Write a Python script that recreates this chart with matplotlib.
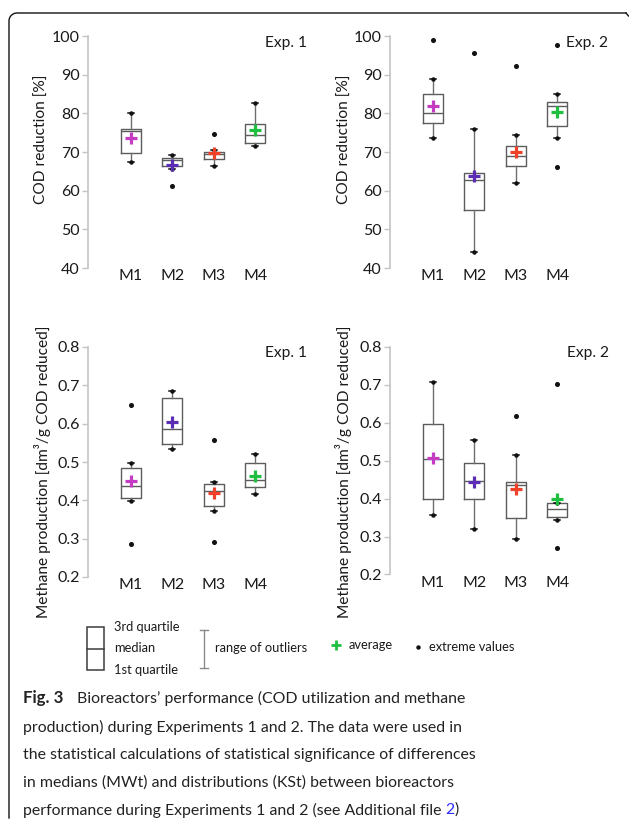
import numpy as np
import matplotlib
matplotlib.use("Agg")
import matplotlib.pyplot as plt

plt.rcParams['font.family'] = ['Lato', 'DejaVu Sans']

W, H = 629, 822

categories = ['M1', 'M2', 'M3', 'M4']
mean_colors = ['#c43cc4', '#5a2db4', '#f0412a', '#1fbf3f']

# COD reduction, Exp. 1 [%]
cod1_whislo = [67.3, 65.6, 66.3, 71.6]
cod1_q1 = [69.7, 66.3, 68.2, 72.2]
cod1_med = [75.5, 68.0, 69.4, 74.4]
cod1_q3 = [75.9, 68.5, 70.1, 77.3]
cod1_whishi = [80.0, 69.3, 70.4, 82.6]
cod1_mean = [73.6, 66.7, 69.7, 75.6]
cod1_extreme = [[], [61.3], [74.6], []]

# COD reduction, Exp. 2 [%]
cod2_whislo = [73.6, 44.1, 62.1, 73.5]
cod2_q1 = [77.6, 54.9, 66.3, 76.6]
cod2_med = [80.2, 62.7, 68.9, 81.9]
cod2_q3 = [85.0, 64.5, 71.5, 82.9]
cod2_whishi = [88.8, 75.9, 74.3, 84.9]
cod2_mean = [82.0, 63.7, 70.1, 80.3]
cod2_extreme = [[99.0], [95.6], [92.3], [97.8, 66.1]]

# methane production, Exp. 1 [dm3/g COD reduced]
meth1_whislo = [0.398, 0.535, 0.372, 0.417]
meth1_q1 = [0.407, 0.548, 0.385, 0.435]
meth1_med = [0.437, 0.587, 0.424, 0.452]
meth1_q3 = [0.484, 0.666, 0.443, 0.497]
meth1_whishi = [0.497, 0.684, 0.449, 0.520]
meth1_mean = [0.451, 0.604, 0.420, 0.464]
meth1_extreme = [[0.650, 0.285], [], [0.557, 0.291], []]

# methane production, Exp. 2 [dm3/g COD reduced]
meth2_whislo = [0.356, 0.320, 0.293, 0.345]
meth2_q1 = [0.399, 0.398, 0.348, 0.351]
meth2_med = [0.504, 0.446, 0.437, 0.374]
meth2_q3 = [0.596, 0.495, 0.444, 0.389]
meth2_whishi = [0.707, 0.555, 0.516, 0.389]
meth2_mean = [0.507, 0.445, 0.425, 0.399]
meth2_extreme = [[], [], [0.619], [0.703, 0.270]]

caption_lines = [
    "production) during Experiments 1 and 2. The data were used in",
    "the statistical calculations of statistical significance of differences",
    "in medians (MWt) and distributions (KSt) between bioreactors",
]


def make_stats(whislo, q1, med, q3, whishi, mean, extreme):
    stats = []
    for i in range(len(med)):
        stats.append(dict(whislo=whislo[i], q1=q1[i], med=med[i], q3=q3[i],
                          whishi=whishi[i], mean=mean[i],
                          fliers=np.array(extreme[i])))
    return stats


fig = plt.figure(figsize=(W / 100, H / 100), dpi=100)


def add_ax(left, top, right, bottom):
    return fig.add_axes([left / W, 1 - bottom / H, (right - left) / W, (bottom - top) / H])


def draw_panel(ax, stats, ylim, yticks, fmt):
    pos = np.arange(1, len(categories) + 1)
    bp = ax.bxp(stats, positions=pos, widths=0.48, showmeans=True,
                showfliers=True, capwidths=0.15, patch_artist=False,
                boxprops=dict(color='#5c5c5c', lw=1.0),
                medianprops=dict(color='#5c5c5c', lw=1.0),
                whiskerprops=dict(color='#6e6e6e', lw=1.0),
                capprops=dict(color='#111111', lw=1.1),
                flierprops=dict(marker='o', ms=2.6, mfc='#111111', mec='#111111'),
                meanprops=dict(marker='+', ms=8, mew=2.3))
    for line, c in zip(bp['means'], mean_colors):
        line.set_markeredgecolor(c)
        line.set_markerfacecolor(c)
        line.set_zorder(5)
    # small dots at whisker ends
    for s, p in zip(stats, pos):
        ax.plot([p, p], [s['whislo'], s['whishi']], ls='none', marker='o',
                ms=2.2, color='#111111', zorder=4)
    ax.set_xlim(-0.03, 5.2)
    ax.set_ylim(*ylim)
    ax.set_yticks(yticks)
    ax.set_yticklabels([fmt.format(t) for t in yticks])
    ax.set_xticks(pos)
    ax.set_xticklabels(categories)
    for side in ['top', 'right', 'bottom']:
        ax.spines[side].set_visible(False)
    ax.spines['left'].set_color('#c4c4c4')
    ax.spines['left'].set_linewidth(1.2)
    ax.tick_params(axis='y', length=4, width=1.0, color='#c4c4c4', pad=2,
                   labelsize=11.5, labelcolor='#1a1a1a')
    ax.tick_params(axis='x', length=0, pad=1, labelsize=11.5, labelcolor='#1a1a1a')
    ax.patch.set_alpha(0)


cod_ticks = [40, 50, 60, 70, 80, 90, 100]
meth_ticks = [0.2, 0.3, 0.4, 0.5, 0.6, 0.7, 0.8]

ax1 = add_ax(88, 36, 305, 268)
draw_panel(ax1, make_stats(cod1_whislo, cod1_q1, cod1_med, cod1_q3, cod1_whishi,
                           cod1_mean, cod1_extreme), (40, 100), cod_ticks, '{:.0f}')
ax2 = add_ax(390, 36, 607, 268)
draw_panel(ax2, make_stats(cod2_whislo, cod2_q1, cod2_med, cod2_q3, cod2_whishi,
                           cod2_mean, cod2_extreme), (40, 100), cod_ticks, '{:.0f}')
ax3 = add_ax(88, 347, 305, 577)
draw_panel(ax3, make_stats(meth1_whislo, meth1_q1, meth1_med, meth1_q3, meth1_whishi,
                           meth1_mean, meth1_extreme), (0.2, 0.8), meth_ticks, '{:.1f}')
ax4 = add_ax(390, 347, 607, 574.5)
draw_panel(ax4, make_stats(meth2_whislo, meth2_q1, meth2_med, meth2_q3, meth2_whishi,
                           meth2_mean, meth2_extreme), (0.2, 0.8), meth_ticks, '{:.1f}')

# overlay in pixel units for labels, legend, frame and caption
ov = fig.add_axes([0, 0, 1, 1], zorder=-1)
ov.set_xlim(0, W)
ov.set_ylim(H, 0)
ov.axis('off')

txt = dict(color='#1a1a1a', fontsize=11.2)
ov.text(42, 139, 'COD reduction [%]', rotation=90, ha='center', va='center', **txt)
ov.text(345, 139, 'COD reduction [%]', rotation=90, ha='center', va='center', **txt)
ov.text(43, 472, 'Methane production [dm³/g COD reduced]', rotation=90,
        ha='center', va='center', **txt)
ov.text(343, 472, 'Methane production [dm³/g COD reduced]', rotation=90,
        ha='center', va='center', **txt)
ov.text(307, 43, 'Exp. 1', ha='right', va='center', **txt)
ov.text(608, 43, 'Exp. 2', ha='right', va='center', **txt)
ov.text(307, 353, 'Exp. 1', ha='right', va='center', **txt)
ov.text(609, 353, 'Exp. 2', ha='right', va='center', **txt)

# legend key
lg = dict(color='#1a1a1a', fontsize=9.3, va='center')
ov.add_patch(plt.Rectangle((87, 627), 17, 43, fill=False, ec='#3c3c3c', lw=1.1))
ov.plot([87, 104], [649, 649], color='#3c3c3c', lw=1.1)
ov.text(114, 627, '3rd quartile', **lg)
ov.text(114, 648, 'median', **lg)
ov.text(114, 670, '1st quartile', **lg)
ov.plot([204, 204], [630, 668], color='#8a8a8a', lw=1.0)
ov.plot([200, 208], [630, 630], color='#8a8a8a', lw=1.0)
ov.plot([200, 208], [668, 668], color='#8a8a8a', lw=1.0)
ov.text(215, 648, 'range of outliers', **lg)
ov.plot(336, 645, marker='+', ms=7, mew=2.0, color=mean_colors[3])
ov.text(349, 645, 'average', **lg)
ov.plot(418, 647, marker='o', ms=2.2, color='#111111')
ov.text(429, 647, 'extreme values', **lg)

# frame with rounded top-left corner
t = np.linspace(-np.pi / 2, -np.pi, 20)
fx = np.concatenate([[626, 17], 17 + 8 * np.cos(t), [9]])
fy = np.concatenate([[13, 13], 21 + 8 * np.sin(t), [818]])
ov.plot(fx, fy, color='#111111', lw=1.0)
ov.plot([626, 628.5], [13, 16], color='#111111', lw=1.0)

# caption
cap_font = ['Lato', 'DejaVu Sans']
cap = dict(color='#222222', fontsize=11.4, va='center', family=cap_font)
ov.text(23, 698, 'Fig. 3', fontweight='bold', fontsize=12.2, color='#222222',
        va='center', family=cap_font)
ov.text(77, 698, 'Bioreactors’ performance (COD utilization and methane', **cap)
for i, line in enumerate(caption_lines):
    ov.text(23, 727 + 28 * i, line, **cap)
t1 = ov.text(23, 810, 'performance during Experiments 1 and 2 (see Additional file ', **cap)
fig.canvas.draw()
x_end = t1.get_window_extent().x1
t2 = ov.annotate('2', xy=(x_end, 810), xycoords=('figure pixels', 'data'),
                 color='#2b2bff', fontsize=11.4, va='center', family=cap_font)
fig.canvas.draw()
ov.annotate(')', xy=(t2.get_window_extent().x1, 810), xycoords=('figure pixels', 'data'),
            color='#222222', fontsize=11.4, va='center', family=cap_font)

fig.savefig('out.png', dpi=100)
